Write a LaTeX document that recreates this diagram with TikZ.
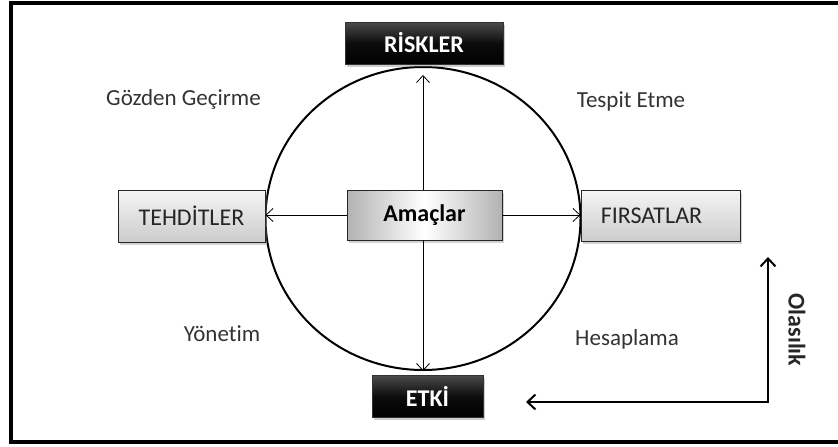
\documentclass[tikz,border=0pt]{standalone}
\usepackage{fontspec}
\setmainfont{Carlito}[Ligatures=NoCommon]
\usetikzlibrary{arrows.meta,shapes.geometric,shadows}
\begin{document}
\begin{tikzpicture}[x=1pt,y=-1pt,
  darkbox/.style={rectangle, draw=black!80, line width=0.8pt,
    top color=black!70, bottom color=black, middle color=black!95,
    text=white, font=\fontsize{24}{28}\selectfont\bfseries,
    inner sep=0pt,
    drop shadow={shadow xshift=2pt, shadow yshift=-3pt, opacity=0.4}},
  greybox/.style={rectangle, draw=black!85, line width=0.9pt,
    top color=gray!8, bottom color=gray!40,
    text=black!85, font=\fontsize{24}{28}\selectfont, inner sep=0pt,
    drop shadow={shadow xshift=2pt, shadow yshift=-3pt, opacity=0.35}},
  centrebox/.style={rectangle, draw=black!85, line width=0.9pt,
    left color=gray!60, right color=gray!60, middle color=white,
    text=black, font=\fontsize{24}{28}\selectfont\bfseries, inner sep=0pt,
    drop shadow={shadow xshift=2pt, shadow yshift=-3pt, opacity=0.35}},
  phase/.style={font=\fontsize{23}{27}\selectfont, text=black!80,
    anchor=base, inner sep=0pt},
  arr/.style={-{Straight Barb[length=7pt,width=13pt]}, line width=0.8pt},
  axis/.style={{Straight Barb[length=8pt,width=15pt]}-{Straight Barb[length=8pt,width=15pt]},
    line width=2pt}
]
\useasboundingbox (0,0) rectangle (838,447);

% outer frame (its right side runs past the page edge)
\draw[line width=4pt] (850,3) -- (11,3) -- (11,442) -- (850,442);

% central ring
\node[draw, ellipse, line width=2pt, minimum width=315pt,
      minimum height=303pt, inner sep=0pt] (ring) at (423,218.5) {};

% boxes
\node[darkbox, minimum width=158pt, minimum height=42pt] (risk) at (424,43) {RİSKLER};
\node[darkbox, minimum width=111pt, minimum height=42pt] (etki) at (427.5,396) {ETKİ};
\node[centrebox, minimum width=155pt, minimum height=50pt] (amac) at (424.5,215) {Amaçlar};
\node[greybox, minimum width=147pt, minimum height=52pt] (tehdit) at (191.5,216) {TEHDİTLER};
\node[greybox, minimum width=159pt, minimum height=51pt] (firsat) at (660.5,215.5) {FIRSATLAR\hspace*{18pt}};

% arrows out of the centre
\draw[arr, shorten >=9pt] (amac.north -| ring.north) -- (ring.north);
\draw[arr] (amac.south -| ring.south) -- (ring.south);
\draw[arr] (amac.west) -- (amac.west -| tehdit.east);
\draw[arr] (amac.east) -- (amac.east -| firsat.west);

% quadrant labels
\node[phase] (gozden) at (183.5,105) {Gözden Geçirme};
\node[phase] (tespit) at (631,107) {Tespit Etme};
\node[phase] (yonetim) at (222,341) {Yönetim};
\node[phase] (hesap) at (627,345) {Hesaplama};

% probability / impact axes
\coordinate (corner) at (768,402);
\coordinate (upend) at (768,257);
\coordinate (leftend) at (526,402);
\draw[axis] (upend) -- (corner) -- (leftend);
\node[rotate=-90, font=\fontsize{24}{28}\selectfont\bfseries, text=black!85,
      inner sep=0pt] (olas) at (797,330) {Olasılık};
\end{tikzpicture}
\end{document}
